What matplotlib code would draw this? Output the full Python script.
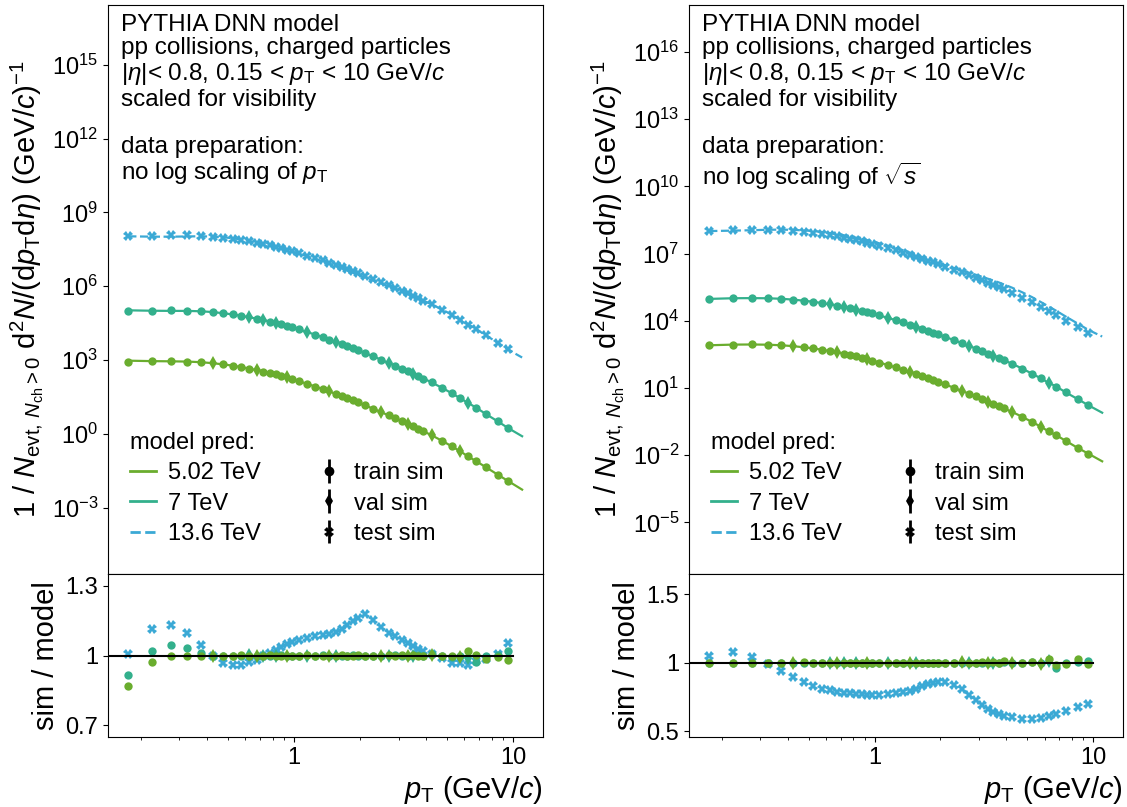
import numpy as np
import matplotlib
matplotlib.use('Agg')
import matplotlib.pyplot as plt
from matplotlib.lines import Line2D
from matplotlib.ticker import FixedLocator, FixedFormatter, NullLocator, NullFormatter, LogLocator, FuncFormatter

plt.rcParams['font.family'] = ['Liberation Sans', 'DejaVu Sans']
plt.rcParams['mathtext.fontset'] = 'custom'
plt.rcParams['mathtext.rm'] = 'Liberation Sans'
plt.rcParams['mathtext.it'] = 'Liberation Sans:italic'
plt.rcParams['mathtext.bf'] = 'Liberation Sans:bold'
plt.rcParams['mathtext.sf'] = 'Liberation Sans'

# ---------------- data ----------------
pt = [0.175, 0.225, 0.275, 0.325, 0.375, 0.425, 0.475, 0.525, 0.575, 0.625,
      0.675, 0.725, 0.775, 0.825, 0.875, 0.925, 0.975,
      1.05, 1.15, 1.25, 1.35, 1.45, 1.55, 1.65, 1.75, 1.85, 1.95,
      2.1, 2.3, 2.5, 2.7, 2.9, 3.1, 3.3, 3.5, 3.7, 3.9,
      4.25, 4.75, 5.25, 5.75, 6.25, 6.75, 7.5, 8.5, 9.5]
pt_model_end = 11.0

energies = ['5.02 TeV', '7 TeV', '13.6 TeV']

# simulated spectra (scaled for visibility), log10 values
sim_log10_502 = [2.91, 2.94, 2.945, 2.935, 2.91, 2.87, 2.82, 2.77, 2.71, 2.65,
                 2.59, 2.53, 2.47, 2.41, 2.35, 2.29, 2.23,
                 2.14, 2.03, 1.92, 1.82, 1.72, 1.62, 1.53, 1.44, 1.36, 1.28,
                 1.16, 1.02, 0.88, 0.75, 0.63, 0.51, 0.40, 0.30, 0.20, 0.10,
                 -0.06, -0.29, -0.51, -0.72, -0.92, -1.10, -1.36, -1.66, -1.93]
sim_log10_7 = [4.98, 5.01, 5.015, 5.008, 4.985, 4.948, 4.90, 4.852, 4.794, 4.736,
               4.678, 4.62, 4.562, 4.504, 4.446, 4.388, 4.33,
               4.242, 4.135, 4.028, 3.93, 3.832, 3.734, 3.646, 3.558, 3.48, 3.402,
               3.285, 3.148, 3.01, 2.883, 2.765, 2.648, 2.54, 2.442, 2.344, 2.246,
               2.089, 1.863, 1.646, 1.439, 1.242, 1.064, 0.807, 0.51, 0.24]
sim_log10_136 = [8.03, 8.06, 8.065, 8.063, 8.046, 8.014, 7.972, 7.93, 7.878, 7.822,
                 7.766, 7.714, 7.658, 7.602, 7.546, 7.49, 7.434,
                 7.348, 7.246, 7.144, 7.048, 6.952, 6.86, 6.774, 6.688, 6.612, 6.536,
                 6.424, 6.292, 6.16, 6.038, 5.922, 5.806, 5.704, 5.608, 5.512, 5.416,
                 5.264, 5.042, 4.83, 4.624, 4.432, 4.256, 4.00, 3.708, 3.442]

# sim / model ratios, left panel (no log scaling of pT)
ratio_left_502 = [0.868, 0.970, 0.999, 1.000, 0.999, 1.000, 0.998, 1.000, 1.001, 1.000,
                  0.999, 1.000, 1.001, 1.000, 1.000, 0.999, 1.000,
                  1.000, 1.001, 1.000, 0.999, 1.000, 1.000, 1.001, 1.000, 1.000, 1.002,
                  1.000, 0.999, 1.000, 1.003, 1.000, 1.002, 0.998, 1.004, 1.000, 0.997,
                  1.002, 1.000, 0.998, 0.992, 1.020, 1.004, 0.985, 0.995, 0.982]
ratio_left_7 = [0.915, 1.020, 1.045, 1.031, 1.011, 1.000, 0.999, 1.000, 1.000, 1.001,
                1.000, 0.999, 1.000, 1.000, 1.001, 1.000, 1.000,
                0.999, 1.000, 1.000, 1.001, 1.000, 1.000, 0.999, 1.000, 1.001, 1.000,
                1.000, 1.000, 0.999, 1.000, 1.001, 1.000, 1.000, 0.998, 1.002, 1.000,
                1.005, 0.998, 0.995, 1.000, 0.990, 0.974, 1.000, 1.003, 1.020]
ratio_left_136 = [1.007, 1.115, 1.132, 1.098, 1.043, 0.996, 0.967, 0.958, 0.961, 0.970,
                  0.981, 0.996, 1.012, 1.025, 1.038, 1.048, 1.056,
                  1.066, 1.075, 1.083, 1.088, 1.092, 1.100, 1.115, 1.132, 1.148, 1.162,
                  1.178, 1.153, 1.122, 1.096, 1.082, 1.067, 1.055, 1.042, 1.028, 1.019,
                  1.005, 0.988, 0.969, 0.966, 0.958, 0.975, 0.985, 1.005, 1.055]

# sim / model ratios, right panel (no log scaling of sqrt(s))
ratio_right_502 = [1.000, 1.000, 1.000, 0.998, 1.000, 1.000, 1.003, 1.000, 1.000, 1.000,
                   0.998, 1.000, 1.000, 1.002, 1.000, 1.000, 1.000,
                   1.000, 1.002, 1.000, 1.000, 0.998, 1.000, 1.000, 1.002, 1.000, 1.000,
                   1.000, 0.998, 1.003, 1.000, 1.000, 1.004, 1.000, 1.005, 0.998, 1.012,
                   1.000, 0.996, 1.008, 0.990, 1.030, 0.985, 0.995, 1.025, 0.990]
ratio_right_7 = [1.000, 1.000, 1.000, 1.000, 0.999, 1.000, 1.000, 1.001, 1.000, 1.000,
                 1.000, 0.999, 1.000, 1.000, 1.000, 1.001, 1.000,
                 1.000, 1.000, 0.999, 1.000, 1.000, 1.001, 1.000, 1.000, 0.999, 1.000,
                 1.000, 1.001, 1.000, 0.998, 1.000, 1.002, 1.000, 0.997, 1.000, 1.003,
                 0.998, 1.000, 1.004, 0.997, 1.010, 0.960, 1.000, 1.005, 1.010]
ratio_right_136 = [1.051, 1.076, 1.044, 0.990, 0.941, 0.897, 0.863, 0.831, 0.811, 0.799,
                   0.789, 0.782, 0.777, 0.772, 0.770, 0.767, 0.767,
                   0.768, 0.772, 0.777, 0.785, 0.797, 0.812, 0.827, 0.842, 0.853, 0.860,
                   0.862, 0.840, 0.808, 0.767, 0.727, 0.693, 0.666, 0.644, 0.625, 0.612,
                   0.603, 0.591, 0.588, 0.600, 0.610, 0.625, 0.645, 0.674, 0.696]

# model value at the end of the prediction range (pT = 11), log10
model_end_log10_left = [-2.27, -0.10, 3.10]
model_end_log10_right = [-2.27, -0.10, 3.30]

# bins used for validation (rest: training); 13.6 TeV is test
val_idx_502 = [5, 10, 15, 21, 29, 33, 37, 40]
val_idx_7 = [9, 11, 13, 18, 22, 30, 34, 41]

colors = ['#6aad2e', '#33b08c', '#3ba9d5']
linestyles = ['-', '-', '--']

panels = [
    dict(ratios=[ratio_left_502, ratio_left_7, ratio_left_136],
         model_end=model_end_log10_left,
         prep='no log scaling of $p_\\mathrm{T}$',
         ylim=(10**-5.7, 10**17.43), yticks=list(range(-3, 16, 3)),
         rlim=(0.65, 1.35), rticks=[0.7, 1.0, 1.3], rlabels=['0.7', '1', '1.3'],
         box=(108, 543)),
    dict(ratios=[ratio_right_502, ratio_right_7, ratio_right_136],
         model_end=model_end_log10_right,
         prep='no log scaling of $\\sqrt{s}$',
         ylim=(10**-7.3, 10**18.1), yticks=list(range(-5, 17, 3)),
         rlim=(0.458, 1.649), rticks=[0.5, 1.0, 1.5], rlabels=['0.5', '1', '1.5'],
         box=(689, 1123)),
]

sims = [sim_log10_502, sim_log10_7, sim_log10_136]
val_sets = [val_idx_502, val_idx_7, None]

W, H = 1127, 807
fig = plt.figure(figsize=(W / 100, H / 100), dpi=100)


def frac(l, t, r, b):
    return [l / W, 1 - b / H, (r - l) / W, (b - t) / H]


FS_TICK = 17
FS_LAB = 21
FS_TXT = 17.5
XLIM = (0.1415, 13.7)

ptarr = np.array(pt)
for p in panels:
    l, r = p['box']
    axm = fig.add_axes(frac(l, 5, r, 574))
    axr = fig.add_axes(frac(l, 574, r, 737), sharex=axm)

    for k in [2, 1, 0]:
        sim = 10 ** np.array(sims[k])
        ratio = np.array(p['ratios'][k])
        model = sim / ratio
        xm = np.append(ptarr, pt_model_end)
        ym = np.append(model, 10 ** p['model_end'][k])
        axm.plot(xm, ym, color=colors[k], ls=linestyles[k], lw=1.6, zorder=2)
        if val_sets[k] is None:
            axm.plot(ptarr, sim, ls='none', marker='X', ms=7, color=colors[k], mew=0, zorder=3)
            axr.plot(ptarr, ratio, ls='none', marker='X', ms=7, color=colors[k], mew=0, zorder=3)
        else:
            vmask = np.zeros(len(pt), bool)
            vmask[val_sets[k]] = True
            tmask = ~vmask
            axm.plot(ptarr[tmask], sim[tmask], ls='none', marker='o', ms=6, color=colors[k], mew=0, zorder=3)
            axm.plot(ptarr[vmask], sim[vmask], ls='none', marker='d', ms=7, color=colors[k], mew=0, zorder=3)
            axr.plot(ptarr[tmask], ratio[tmask], ls='none', marker='o', ms=6, color=colors[k], mew=0, zorder=3)
            axr.plot(ptarr[vmask], ratio[vmask], ls='none', marker='d', ms=7, color=colors[k], mew=0, zorder=3)

    axr.plot([XLIM[0], 10], [1, 1], color='k', lw=1.5, zorder=5)

    axm.set_xscale('log')
    axm.set_yscale('log')
    axm.set_xlim(*XLIM)
    axm.set_ylim(*p['ylim'])
    axm.yaxis.set_major_locator(FixedLocator([10.0 ** e for e in p['yticks']]))
    axm.yaxis.set_major_formatter(FuncFormatter(lambda v, pos: r'$\mathdefault{10^{%d}}$' % int(round(np.log10(v)))))
    axm.yaxis.set_minor_locator(NullLocator())
    axm.tick_params(axis='x', which='both', bottom=False, labelbottom=False)
    axm.tick_params(axis='y', labelsize=FS_TICK)

    axr.set_ylim(*p['rlim'])
    axr.yaxis.set_major_locator(FixedLocator(p['rticks']))
    axr.yaxis.set_major_formatter(FixedFormatter(p['rlabels']))
    axr.yaxis.set_minor_locator(NullLocator())
    axr.xaxis.set_major_locator(FixedLocator([1, 10]))
    axr.xaxis.set_major_formatter(FixedFormatter(['1', '10']))
    axr.xaxis.set_minor_locator(LogLocator(base=10, subs=np.arange(2, 10)))
    axr.xaxis.set_minor_formatter(NullFormatter())
    axr.tick_params(labelsize=FS_TICK)
    axr.set_xlim(*XLIM)

    axm.set_ylabel(r'$1\ /\ N_{\mathrm{evt},\,N_{\mathrm{ch}}>0}\ \mathrm{d}^2N/(\mathrm{d}p_\mathrm{T}\mathrm{d}\eta)\ (\mathrm{GeV}/c)^{-1}$',
                   fontsize=FS_LAB)
    axr.set_ylabel('sim / model', fontsize=FS_LAB)
    axr.set_xlabel(r'$p_\mathrm{T}$ (GeV/$c$)', fontsize=FS_LAB, loc='right')

    txt = ('PYTHIA DNN model\npp collisions, charged particles\n'
           '|$\\eta$|< 0.8, 0.15 < $p_\\mathrm{T}$ < 10 GeV/$c$\nscaled for visibility\n\n'
           'data preparation:\n' + p['prep'])
    axm.text(0.030, 0.985, txt, transform=axm.transAxes, va='top', ha='left',
             fontsize=FS_TXT, linespacing=1.1)

    # legend
    hl = [Line2D([], [], color=colors[k], ls=linestyles[k], lw=2) for k in range(3)]
    he = []
    for m, ms in [('o', 7), ('d', 7), ('X', 7)]:
        he.append(axm.errorbar([1e-3], [1e-30], yerr=[1e-31], fmt=m, ms=ms, color='k',
                               elinewidth=2, mew=0))
    leg = axm.legend(hl + he, energies + ['train sim', 'val sim', 'test sim'], ncol=2,
                     title='model pred:', loc='lower left', bbox_to_anchor=(0.002, 0.014),
                     frameon=False, fontsize=FS_TICK, title_fontsize=FS_TICK,
                     alignment='left', handlelength=1.1, handletextpad=0.5,
                     columnspacing=2.35, labelspacing=0.35)
    axm.set_xlim(*XLIM)
    axm.set_ylim(*p['ylim'])

fig.savefig('out.png', dpi=100)
